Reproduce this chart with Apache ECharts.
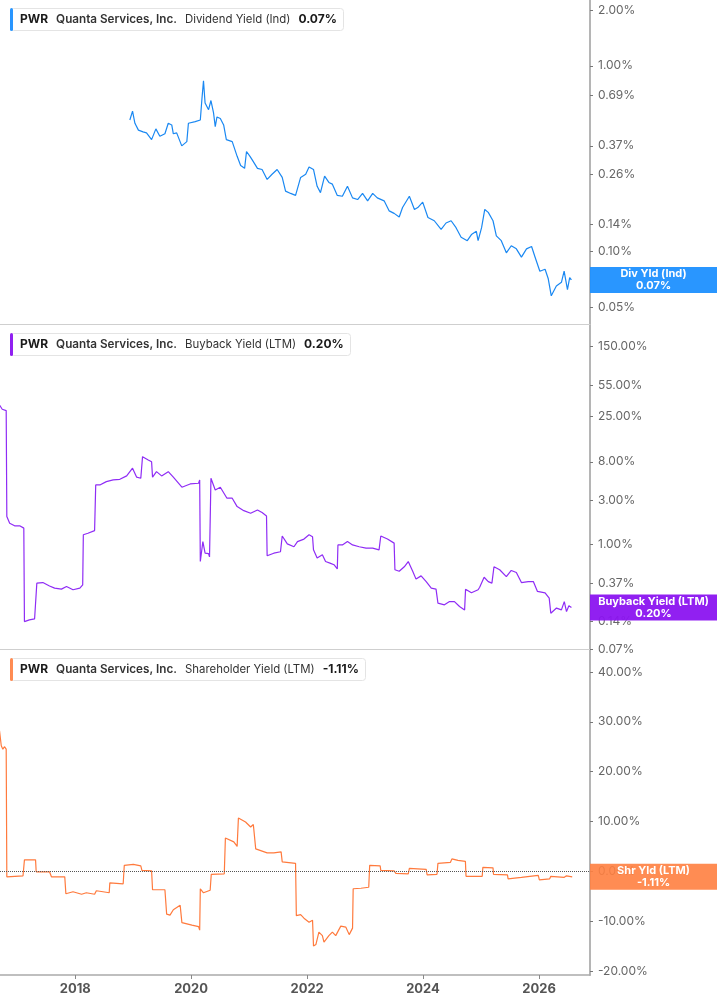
<!DOCTYPE html>
<html>
<head>
<meta charset="utf-8">
<script src="https://cdn.jsdelivr.net/npm/echarts@6/dist/echarts.min.js"></script>
<style>
html,body{margin:0;padding:0;background:#fff;}
#chart{width:717px;height:1005px;}
</style>
</head>
<body>
<div id="chart"></div>
<script>
// ---------- DATA ----------
const yearTicks = ['2018-01-01','2020-01-01','2022-01-01','2024-01-01','2026-01-01'];

const divTicks = [0.05, 0.10, 0.14, 0.26, 0.37, 0.69, 1.00, 2.00];
const buyTicks = [0.07, 0.14, 0.37, 1.00, 3.00, 8.00, 25.00, 55.00, 150.00];
const shrTicks = [-20, -10, 0, 10, 20, 30, 40];

const divDates = ['2018-12-11','2018-12-28','2019-01-12','2019-02-03','2019-03-04','2019-03-26','2019-04-27','2019-05-24','2019-06-18','2019-07-20','2019-08-10','2019-09-01','2019-09-11','2019-10-02','2019-11-03','2019-12-05','2019-12-15','2020-01-27','2020-02-28','2020-03-09','2020-03-19','2020-03-29','2020-04-20','2020-05-05','2020-05-21','2020-06-01','2020-06-12','2020-07-03','2020-07-24','2020-08-10','2020-09-16','2020-10-17','2020-11-08','2020-12-03','2020-12-15','2021-01-06','2021-01-21','2021-02-22','2021-03-23','2021-04-24','2021-05-25','2021-06-26','2021-07-28','2021-08-18','2021-09-19','2021-10-20','2021-11-21','2021-12-23','2022-01-13','2022-02-10','2022-03-05','2022-03-26','2022-04-21','2022-05-18','2022-06-09','2022-07-10','2022-08-11','2022-09-12','2022-10-14','2022-11-15','2022-12-16','2023-01-17','2023-02-18','2023-03-19','2023-05-01','2023-06-02','2023-07-03','2023-08-04','2023-08-25','2023-10-07','2023-11-08','2023-11-29','2023-12-30','2024-02-01','2024-03-12','2024-04-24','2024-05-25','2024-06-26','2024-07-27','2024-08-28','2024-10-06','2024-11-01','2024-12-02','2024-12-13','2025-01-04','2025-01-24','2025-02-15','2025-02-25','2025-03-17','2025-04-07','2025-05-08','2025-06-09','2025-07-10','2025-08-11','2025-09-12','2025-10-14','2025-11-15','2025-12-05','2026-01-06','2026-02-08','2026-02-28','2026-03-19','2026-04-20','2026-05-22','2026-06-08','2026-06-29','2026-07-13','2026-07-24'];
const divValues = [0.51,0.57,0.49,0.45,0.44,0.435,0.40,0.457,0.417,0.43,0.49,0.48,0.43,0.435,0.37,0.39,0.49,0.50,0.51,0.66,0.83,0.63,0.58,0.65,0.56,0.47,0.53,0.52,0.48,0.40,0.39,0.325,0.29,0.28,0.345,0.325,0.31,0.28,0.276,0.244,0.26,0.276,0.25,0.211,0.205,0.20,0.25,0.26,0.285,0.276,0.224,0.207,0.254,0.235,0.23,0.20,0.198,0.224,0.194,0.19,0.205,0.187,0.205,0.194,0.187,0.165,0.16,0.153,0.172,0.198,0.168,0.172,0.184,0.152,0.146,0.131,0.142,0.146,0.134,0.119,0.114,0.123,0.128,0.114,0.134,0.168,0.162,0.166,0.146,0.121,0.114,0.098,0.107,0.103,0.093,0.103,0.106,0.094,0.078,0.08,0.071,0.0575,0.065,0.068,0.078,0.062,0.072,0.07];

const buyDates = ['2016-09-11','2016-09-28','2016-10-23','2016-10-27','2016-11-14','2016-12-15','2017-01-16','2017-02-11','2017-02-15','2017-03-18','2017-04-20','2017-04-26','2017-05-04','2017-06-11','2017-07-23','2017-08-24','2017-10-06','2017-11-07','2017-12-18','2018-01-30','2018-02-17','2018-02-21','2018-03-22','2018-05-03','2018-05-10','2018-06-05','2018-07-16','2018-08-28','2018-10-09','2018-11-21','2018-12-28','2019-01-23','2019-02-18','2019-03-01','2019-04-06','2019-04-27','2019-05-03','2019-05-28','2019-06-29','2019-08-10','2019-09-11','2019-11-04','2019-12-26','2020-02-17','2020-02-24','2020-02-28','2020-03-15','2020-03-29','2020-04-20','2020-04-26','2020-05-05','2020-06-01','2020-07-03','2020-08-14','2020-09-16','2020-10-17','2020-11-28','2021-01-10','2021-02-22','2021-03-23','2021-04-20','2021-04-24','2021-06-05','2021-07-17','2021-07-28','2021-08-07','2021-08-29','2021-10-10','2021-11-01','2021-12-12','2022-01-13','2022-02-04','2022-02-10','2022-03-05','2022-04-07','2022-04-27','2022-05-29','2022-06-19','2022-07-10','2022-07-14','2022-08-11','2022-09-12','2022-10-14','2022-11-25','2023-01-07','2023-02-18','2023-03-30','2023-04-10','2023-05-22','2023-07-03','2023-07-08','2023-08-04','2023-09-05','2023-09-30','2023-10-28','2023-11-18','2023-12-20','2024-01-21','2024-02-22','2024-03-23','2024-04-04','2024-05-15','2024-06-16','2024-07-17','2024-08-18','2024-09-19','2024-09-25','2024-11-01','2024-12-13','2024-12-23','2025-01-20','2025-02-15','2025-03-10','2025-03-23','2025-04-28','2025-06-09','2025-07-10','2025-08-11','2025-09-12','2025-10-25','2025-11-26','2025-12-22','2026-02-08','2026-03-06','2026-03-16','2026-04-21','2026-05-22','2026-06-09','2026-06-23','2026-07-08','2026-07-24'];
const buyValues = [33.7,30.2,29.2,2.0,1.69,1.58,1.58,1.49,0.14,0.146,0.15,0.146,0.37,0.376,0.345,0.326,0.318,0.34,0.313,0.326,0.354,1.26,1.31,1.40,4.45,4.45,4.84,5.05,5.13,5.59,6.79,5.41,5.27,9.1,8.38,8.0,5.41,6.23,5.59,6.23,5.41,4.2,4.56,4.64,5.05,0.64,1.06,0.79,0.78,0.72,5.27,3.92,4.2,3.18,3.18,2.57,2.32,2.17,2.36,2.21,2.03,0.74,0.79,0.82,1.22,1.18,1.0,0.93,1.06,1.13,1.26,1.2,0.86,0.70,0.76,0.64,0.61,0.59,0.53,0.975,0.975,1.06,0.975,0.93,0.9,0.9,0.86,1.22,1.13,1.02,0.52,0.50,0.56,0.64,0.50,0.41,0.445,0.385,0.326,0.318,0.223,0.214,0.232,0.232,0.205,0.188,0.318,0.29,0.313,0.334,0.43,0.385,0.37,0.56,0.52,0.437,0.51,0.484,0.376,0.385,0.385,0.30,0.29,0.253,0.173,0.197,0.188,0.232,0.18,0.209,0.20];

const shrDates = ['2016-09-11','2016-09-22','2016-10-02','2016-10-12','2016-10-23','2016-10-27','2017-02-06','2017-02-15','2017-04-26','2017-04-30','2017-07-23','2017-08-04','2017-10-27','2017-11-03','2017-12-18','2018-02-10','2018-03-12','2018-05-03','2018-05-14','2018-06-25','2018-08-03','2018-08-07','2018-10-30','2018-11-06','2019-01-02','2019-02-18','2019-02-25','2019-04-27','2019-05-03','2019-07-20','2019-07-31','2019-08-21','2019-09-11','2019-10-24','2019-11-04','2020-01-06','2020-02-17','2020-02-24','2020-02-28','2020-03-19','2020-04-30','2020-05-07','2020-07-28','2020-08-04','2020-09-26','2020-10-17','2020-10-25','2020-12-09','2021-01-10','2021-01-27','2021-02-11','2021-04-24','2021-06-05','2021-07-21','2021-07-28','2021-10-20','2021-10-25','2021-11-21','2021-12-12','2022-01-13','2022-02-04','2022-02-10','2022-02-25','2022-03-16','2022-04-07','2022-04-17','2022-05-18','2022-06-09','2022-06-30','2022-08-01','2022-09-02','2022-09-23','2022-10-14','2022-10-18','2022-12-06','2023-01-24','2023-01-30','2023-04-06','2023-04-10','2023-07-03','2023-07-14','2023-09-30','2023-10-07','2024-01-21','2024-01-27','2024-03-29','2024-04-04','2024-06-22','2024-07-01','2024-08-08','2024-09-24','2024-09-28','2025-01-08','2025-01-12','2025-03-17','2025-03-20','2025-06-16','2025-06-20','2025-09-12','2025-09-17','2025-12-27','2026-01-03','2026-03-09','2026-03-16','2026-06-09','2026-06-23','2026-07-29'];
const shrValues = [28.2,25.2,24.5,25.0,24.5,-1.1,-0.9,2.3,2.3,-0.1,-0.1,-1.1,-1.1,-4.5,-4.1,-4.6,-4.3,-4.6,-3.9,-4.1,-4.3,-2.3,-2.5,1.2,1.4,1.1,0.2,0.1,-3.7,-3.7,-8.6,-8.8,-7.7,-6.8,-10.3,-10.8,-11.1,-11.8,-3.5,-4.3,-3.8,-0.6,-0.5,6.7,5.9,5.0,10.7,9.9,8.9,9.4,4.5,3.7,3.7,3.9,1.9,1.6,-8.9,-8.7,-9.4,-10.2,-9.8,-15.0,-14.7,-12.2,-12.9,-14.2,-12.9,-12.2,-12.9,-11.0,-11.2,-12.7,-11.4,-3.5,-3.4,-3.2,1.2,1.1,0.2,0.1,-0.4,-0.5,0.6,0.4,-0.7,-0.6,1.6,1.8,2.5,2.2,2.0,-1.0,-1.0,0.8,0.7,-0.6,-0.7,-1.5,-1.2,-0.8,-0.8,-1.7,-1.5,-1.0,-1.2,-0.9,-1.11];

// ---------- CONFIG ----------
const FONT = 'Inter, "Noto Sans", Roboto, sans-serif';
const X_MIN = '2016-09-14';
const X_MAX = '2026-11-18';

const panels = [
  { ticker:'PWR', name:'Quanta Services, Inc.', metric:'Dividend Yield (Ind)', short:'Div Yld (Ind)',
    dates:divDates, values:divValues, ticks:divTicks, type:'log', min:0.0405, max:2.265,
    line:'#1a88f2', box:'rgba(30,144,255,0.95)' },
  { ticker:'PWR', name:'Quanta Services, Inc.', metric:'Buyback Yield (LTM)', short:'Buyback Yield (LTM)',
    dates:buyDates, values:buyValues, ticks:buyTicks, type:'log', min:0.0699, max:255,
    line:'#8f2cf5', box:'rgba(139,20,240,0.95)' },
  { ticker:'PWR', name:'Quanta Services, Inc.', metric:'Shareholder Yield (LTM)', short:'Shr Yld (LTM)',
    dates:shrDates, values:shrValues, ticks:shrTicks, type:'value', min:-20.8, max:44.4,
    line:'#ff7a3d', box:'rgba(255,127,64,0.9)' }
];

const tops = [0, 325, 650];
const heights = [324, 324, 325];
const pct = v => v.toFixed(2) + '%';

const chart = echarts.init(document.getElementById('chart'), null, {renderer:'canvas'});

const option = {
  animation:false,
  backgroundColor:'#fff',
  textStyle:{fontFamily:FONT},
  title: panels.map((p, i) => {
    const last = p.values[p.values.length - 1];
    return {
      left:10, top:tops[i] + 8,
      text:`{bar| }{t|${p.ticker}}{n|${p.name}}{m|${p.metric}}{v|${pct(last)}}`,
      backgroundColor:'#fff', borderColor:'#e4e4e4', borderWidth:1, borderRadius:3,
      padding:[0,7,0,0],
      textStyle:{
        fontFamily:FONT,
        rich:{
          bar:{backgroundColor:p.box, width:3, height:23, lineHeight:23, borderRadius:2},
          t:{fontFamily:FONT, fontWeight:'bold', fontSize:12, color:'#1a1a1a', padding:[0,0,0,7]},
          n:{fontFamily:FONT, fontWeight:600, fontSize:11.7, color:'#333', padding:[0,0,0,8]},
          m:{fontFamily:FONT, fontWeight:'normal', fontSize:11.4, color:'#333', padding:[0,0,0,8]},
          v:{fontFamily:FONT, fontWeight:'bold', fontSize:12, color:'#1a1a1a', padding:[0,0,0,8]}
        }
      }
    };
  }),
  grid: panels.map((p, i) => ({left:0, right:127, top:tops[i], height:heights[i], containLabel:false})),
  xAxis: panels.map((p, i) => ({
    type:'time', gridIndex:i, min:X_MIN, max:X_MAX,
    axisLine:{show:true, onZero:false, lineStyle:{color: i === 2 ? '#aaaaaa' : '#cfcfcf', width: i === 2 ? 1.5 : 1}},
    axisTick:{show: i === 2, length:4, customValues:yearTicks, lineStyle:{color:'#888'}},
    axisLabel:{show: i === 2, customValues:yearTicks, formatter:'{yyyy}', fontFamily:FONT,
      fontSize:13, fontWeight:'bold', color:'#555', margin:8},
    splitLine:{show:false}
  })),
  yAxis: panels.map((p, i) => ({
    type:p.type, gridIndex:i, position:'right', min:p.min, max:p.max,
    logBase:10, scale:true,
    axisLine:{show:true, lineStyle:{color:'#b5b5b5', width:2}},
    axisTick:{show:true, inside:false, length:3, customValues:p.ticks, lineStyle:{color:'#777'}},
    axisLabel:{show:true, customValues:p.ticks, formatter: v => pct(v), fontFamily:FONT,
      fontSize:12, color:'#666', margin:8},
    splitLine:{show:false}
  })),
  series: panels.map((p, i) => {
    const last = p.values[p.values.length - 1];
    const ml = [];
    if (i === 2) {
      ml.push({yAxis:0, lineStyle:{color:'#555', type:'dotted', width:1}, label:{show:false}});
    }
    ml.push({
      yAxis:last,
      lineStyle:{color:'rgba(255,255,255,0)', width:1},
      label:{
        show:true, position:'end', distance:0, opacity:1,
        formatter:`{a|${p.short}}\n{a|${pct(last)}}`,
        backgroundColor:p.box, padding:[1,0,1,0],
        rich:{a:{width:127, align:'center', color:'#fff', fontWeight:'bold', fontSize:11, lineHeight:12, fontFamily:FONT}}
      }
    });
    return {
      type:'line', xAxisIndex:i, yAxisIndex:i,
      data:p.dates.map((d, k) => [d, p.values[k]]),
      showSymbol:false, symbol:'none', clip:false,
      lineStyle:{color:p.line, width:1.2},
      itemStyle:{color:p.line},
      z:3,
      markLine:{silent:true, symbol:'none', animation:false, z:5, data:ml}
    };
  })
};

chart.setOption(option);
</script>
</body>
</html>
